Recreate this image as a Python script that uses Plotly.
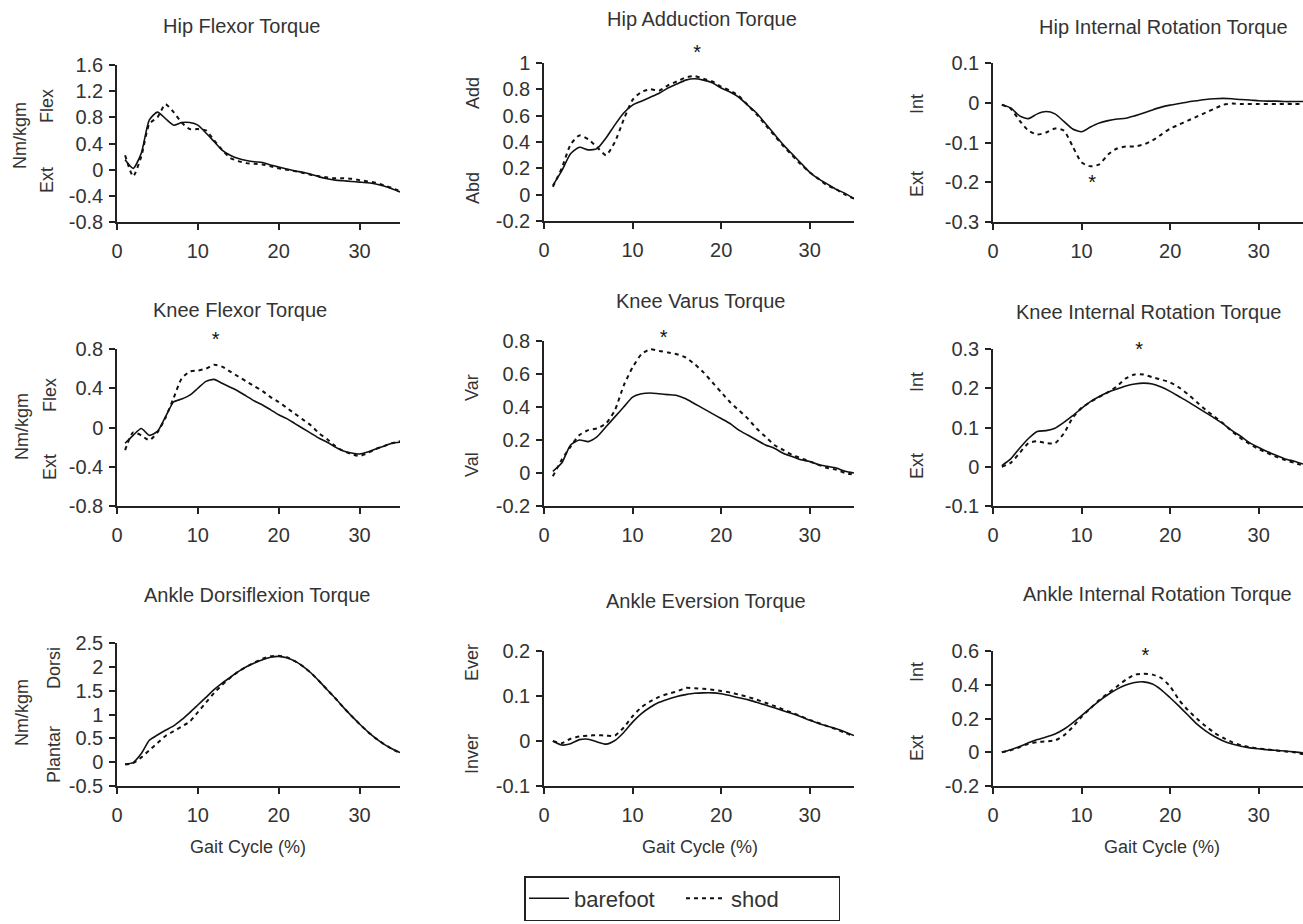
import plotly.graph_objects as go

# ---------------- data ----------------
gait = list(range(1, 36))
x_tick_vals = [0, 10, 20, 30]
x_tick_text = ["0", "10", "20", "30"]

titles = ["Hip Flexor Torque", "Hip Adduction Torque", "Hip Internal Rotation Torque",
          "Knee Flexor Torque", "Knee Varus Torque", "Knee Internal Rotation Torque",
          "Ankle Dorsiflexion Torque", "Ankle Eversion Torque", "Ankle Internal Rotation Torque"]
upper_labels = ["Flex", "Add", "Int", "Flex", "Var", "Int", "Dorsi", "Ever", "Int"]
lower_labels = ["Ext", "Abd", "Ext", "Ext", "Val", "Ext", "Plantar", "Inver", "Ext"]
unit_label = "Nm/kgm"
x_title = "Gait Cycle (%)"

hip_flex_bare = [0.15, 0.02, 0.25, 0.76, 0.88, 0.78, 0.68, 0.72, 0.72, 0.68, 0.56, 0.43, 0.30, 0.22, 0.17,
                 0.14, 0.12, 0.11, 0.07, 0.04, 0.01, -0.02, -0.04, -0.07, -0.11, -0.14, -0.16, -0.17, -0.18,
                 -0.19, -0.20, -0.22, -0.25, -0.29, -0.34]
hip_flex_shod = [0.22, -0.10, 0.20, 0.70, 0.80, 1.00, 0.88, 0.72, 0.62, 0.62, 0.60, 0.45, 0.30, 0.18, 0.13,
                 0.10, 0.09, 0.08, 0.05, 0.02, 0.00, -0.02, -0.05, -0.08, -0.10, -0.12, -0.13, -0.13, -0.14,
                 -0.16, -0.18, -0.20, -0.24, -0.28, -0.33]

hip_add_bare = [0.07, 0.18, 0.31, 0.36, 0.34, 0.35, 0.43, 0.53, 0.62, 0.68, 0.71, 0.74, 0.77, 0.81, 0.84,
                0.87, 0.88, 0.87, 0.85, 0.81, 0.78, 0.74, 0.68, 0.62, 0.54, 0.46, 0.38, 0.31, 0.24, 0.17,
                0.12, 0.08, 0.04, 0.01, -0.03]
hip_add_shod = [0.06, 0.20, 0.38, 0.45, 0.42, 0.36, 0.30, 0.40, 0.57, 0.72, 0.78, 0.80, 0.79, 0.83, 0.86,
                0.89, 0.90, 0.88, 0.86, 0.82, 0.79, 0.75, 0.68, 0.61, 0.53, 0.45, 0.37, 0.30, 0.23, 0.17,
                0.12, 0.07, 0.04, 0.00, -0.03]

hip_int_bare = [-0.005, -0.013, -0.033, -0.040, -0.028, -0.022, -0.028, -0.047, -0.066, -0.073, -0.061,
                -0.051, -0.045, -0.041, -0.039, -0.033, -0.026, -0.018, -0.011, -0.006, -0.002, 0.002,
                0.005, 0.008, 0.010, 0.011, 0.010, 0.008, 0.007, 0.005, 0.004, 0.004, 0.003, 0.003, 0.003]
hip_int_shod = [-0.005, -0.015, -0.045, -0.070, -0.080, -0.075, -0.065, -0.070, -0.110, -0.150, -0.160,
                -0.155, -0.130, -0.115, -0.110, -0.110, -0.105, -0.095, -0.080, -0.065, -0.055, -0.045,
                -0.035, -0.025, -0.015, -0.005, -0.002, -0.003, -0.003, -0.003, -0.003, -0.003, -0.003,
                -0.003, -0.003]

knee_flex_bare = [-0.16, -0.08, -0.01, -0.08, -0.04, 0.11, 0.26, 0.29, 0.33, 0.40, 0.47, 0.49, 0.45, 0.41,
                  0.37, 0.32, 0.27, 0.23, 0.18, 0.13, 0.09, 0.04, -0.01, -0.06, -0.11, -0.15, -0.20, -0.24,
                  -0.26, -0.27, -0.25, -0.22, -0.19, -0.16, -0.15]
knee_flex_shod = [-0.23, -0.05, -0.08, -0.13, -0.05, 0.10, 0.30, 0.50, 0.57, 0.58, 0.60, 0.64, 0.62, 0.57,
                  0.52, 0.47, 0.42, 0.37, 0.31, 0.26, 0.20, 0.14, 0.08, 0.02, -0.06, -0.12, -0.19, -0.24,
                  -0.27, -0.29, -0.26, -0.22, -0.19, -0.16, -0.14]

knee_var_bare = [0.01, 0.06, 0.17, 0.20, 0.19, 0.22, 0.28, 0.34, 0.40, 0.46, 0.48, 0.485, 0.48, 0.475, 0.47,
                 0.45, 0.42, 0.39, 0.36, 0.33, 0.30, 0.26, 0.23, 0.20, 0.17, 0.15, 0.12, 0.10, 0.08, 0.07,
                 0.05, 0.04, 0.03, 0.01, 0.00]
knee_var_shod = [-0.02, 0.08, 0.16, 0.23, 0.26, 0.27, 0.30, 0.38, 0.53, 0.64, 0.72, 0.75, 0.74, 0.73, 0.72,
                 0.70, 0.66, 0.61, 0.55, 0.49, 0.43, 0.38, 0.33, 0.27, 0.22, 0.17, 0.14, 0.11, 0.09, 0.07,
                 0.05, 0.03, 0.02, 0.00, -0.01]

knee_int_bare = [0.003, 0.020, 0.047, 0.072, 0.090, 0.092, 0.098, 0.113, 0.130, 0.149, 0.166, 0.179, 0.190,
                 0.198, 0.206, 0.211, 0.213, 0.211, 0.203, 0.192, 0.179, 0.166, 0.152, 0.138, 0.124, 0.109,
                 0.092, 0.077, 0.061, 0.049, 0.038, 0.029, 0.020, 0.014, 0.007]
knee_int_shod = [0.000, 0.010, 0.035, 0.060, 0.065, 0.060, 0.060, 0.085, 0.125, 0.150, 0.165, 0.178, 0.190,
                 0.205, 0.225, 0.235, 0.235, 0.228, 0.222, 0.215, 0.202, 0.185, 0.165, 0.145, 0.128, 0.110,
                 0.090, 0.072, 0.058, 0.045, 0.035, 0.025, 0.017, 0.010, 0.003]

ankle_dors_bare = [-0.04, -0.01, 0.18, 0.46, 0.57, 0.67, 0.76, 0.89, 1.04, 1.20, 1.36, 1.52, 1.66, 1.78,
                   1.90, 2.00, 2.08, 2.15, 2.20, 2.22, 2.19, 2.12, 2.01, 1.87, 1.70, 1.52, 1.34, 1.15, 0.97,
                   0.80, 0.64, 0.50, 0.38, 0.28, 0.20]
ankle_dors_shod = [-0.05, -0.02, 0.10, 0.25, 0.40, 0.55, 0.65, 0.75, 0.85, 1.05, 1.25, 1.45, 1.62, 1.77,
                   1.90, 2.00, 2.09, 2.17, 2.22, 2.23, 2.20, 2.12, 2.01, 1.87, 1.70, 1.52, 1.34, 1.15, 0.97,
                   0.80, 0.64, 0.50, 0.38, 0.28, 0.19]

ankle_ev_bare = [0.000, -0.009, -0.006, 0.003, 0.004, -0.002, -0.007, 0.001, 0.019, 0.042, 0.061, 0.075,
                 0.086, 0.093, 0.099, 0.103, 0.106, 0.107, 0.107, 0.105, 0.101, 0.096, 0.092, 0.086, 0.080,
                 0.074, 0.067, 0.061, 0.054, 0.046, 0.039, 0.033, 0.027, 0.020, 0.012]
ankle_ev_shod = [0.000, -0.005, 0.005, 0.010, 0.012, 0.013, 0.012, 0.012, 0.030, 0.055, 0.075, 0.088,
                 0.098, 0.105, 0.110, 0.118, 0.117, 0.116, 0.114, 0.111, 0.108, 0.103, 0.098, 0.092, 0.085,
                 0.078, 0.070, 0.063, 0.055, 0.047, 0.040, 0.033, 0.026, 0.018, 0.011]

ankle_int_bare = [0.000, 0.015, 0.034, 0.056, 0.075, 0.090, 0.108, 0.136, 0.174, 0.217, 0.262, 0.305, 0.342,
                  0.374, 0.398, 0.413, 0.417, 0.404, 0.370, 0.323, 0.273, 0.221, 0.168, 0.127, 0.093, 0.067,
                  0.049, 0.036, 0.026, 0.021, 0.015, 0.011, 0.007, 0.002, -0.004]
ankle_int_shod = [0.000, 0.012, 0.030, 0.050, 0.060, 0.065, 0.070, 0.100, 0.150, 0.210, 0.260, 0.310, 0.350,
                  0.390, 0.430, 0.460, 0.465, 0.460, 0.440, 0.390, 0.310, 0.250, 0.200, 0.155, 0.115, 0.085,
                  0.060, 0.042, 0.030, 0.022, 0.016, 0.010, 0.005, 0.000, -0.012]

y_tick_vals = [
    [-0.8, -0.4, 0, 0.4, 0.8, 1.2, 1.6],
    [-0.2, 0, 0.2, 0.4, 0.6, 0.8, 1.0],
    [-0.3, -0.2, -0.1, 0, 0.1],
    [-0.8, -0.4, 0, 0.4, 0.8],
    [-0.2, 0, 0.2, 0.4, 0.6, 0.8],
    [-0.1, 0, 0.1, 0.2, 0.3],
    [-0.5, 0, 0.5, 1.0, 1.5, 2.0, 2.5],
    [-0.1, 0, 0.1, 0.2],
    [-0.2, 0, 0.2, 0.4, 0.6],
]
y_tick_text = [
    ["-0.8", "-0.4", "0", "0.4", "0.8", "1.2", "1.6"],
    ["-0.2", "0", "0.2", "0.4", "0.6", "0.8", "1"],
    ["-0.3", "-0.2", "-0.1", "0", "0.1"],
    ["-0.8", "-0.4", "0", "0.4", "0.8"],
    ["-0.2", "0", "0.2", "0.4", "0.6", "0.8"],
    ["-0.1", "0", "0.1", "0.2", "0.3"],
    ["-0.5", "0", "0.5", "1", "1.5", "2", "2.5"],
    ["-0.1", "0", "0.1", "0.2"],
    ["-0.2", "0", "0.2", "0.4", "0.6"],
]

# significance markers (panel index, x, y)
star_panel = [1, 2, 3, 4, 5, 8]
star_x = [17.3, 11.2, 12.2, 13.5, 16.5, 17.2]
star_y = [1.07, -0.205, 0.88, 0.81, 0.294, 0.566]

barefoot = [hip_flex_bare, hip_add_bare, hip_int_bare, knee_flex_bare, knee_var_bare, knee_int_bare,
            ankle_dors_bare, ankle_ev_bare, ankle_int_bare]
shod = [hip_flex_shod, hip_add_shod, hip_int_shod, knee_flex_shod, knee_var_shod, knee_int_shod,
        ankle_dors_shod, ankle_ev_shod, ankle_int_shod]

# ---------------- layout geometry (page pixels) ----------------
W, H = 1303, 924
col_x = [(117, 400), (544, 854), (993, 1303)]
plot_y = [(65, 222), (63, 221), (63, 222),
          (349, 506), (341, 506), (349, 506),
          (643, 786), (651, 786), (651, 786)]
title_pos = [(241, 26), (702, 19), (1163, 27), (240, 310), (701, 301), (1148, 312),
             (257, 595), (706, 601), (1157, 594)]
upper_pos = [(47, 106), (473, 93), (917, 104), (50, 395), (472, 388), (917, 382),
             (54, 668), (472, 663), (917, 672)]
lower_pos = [(47, 180), (473, 188), (917, 184), (50, 467), (472, 465), (917, 466),
             (54, 754), (472, 754), (917, 748)]
unit_pos = [(20, 136), (22, 427), (22, 713)]
xtitle_pos = [(248, 847), (700, 847), (1162, 847)]
legend_anchor = (682, 921)   # bottom-centre of the legend box
STAR_EXT = 40                # extra headroom (px) for the asterisk overlay axes

FONT = "Liberation Sans, Arial, sans-serif"
TXT = "#333333"
LINE = "#111111"


def px_x(p):
    return min(1.0, max(0.0, p / W))


def px_y(p):
    return min(1.0, max(0.0, 1 - p / H))


fig = go.Figure()
layout = dict(
    width=W, height=H, margin=dict(l=0, r=0, t=0, b=0, pad=0, autoexpand=False), autosize=False,
    paper_bgcolor="white", plot_bgcolor="rgba(0,0,0,0)",
    font=dict(family=FONT, color=TXT),
    showlegend=True,
    legend=dict(orientation="h", x=px_x(legend_anchor[0]), xanchor="center",
                y=px_y(legend_anchor[1]), yanchor="bottom",
                bordercolor="#222222", borderwidth=1.5, bgcolor="white",
                font=dict(size=22, family=FONT, color=TXT), itemwidth=40, tracegroupgap=0,
                entrywidth=102, entrywidthmode="pixels"),
)

annotations = []
for i in range(9):
    ax = "" if i == 0 else str(i + 1)
    c = i % 3
    x0, x1 = col_x[c]
    yt, yb = plot_y[i]
    fig.add_trace(go.Scatter(
        x=gait, y=barefoot[i], mode="lines", name="barefoot", legendgroup="barefoot",
        showlegend=(i == 0), line=dict(color=LINE, width=1.6, shape="spline", smoothing=0.6),
        xaxis="x" + ax, yaxis="y" + ax, hoverinfo="skip"))
    fig.add_trace(go.Scatter(
        x=gait, y=shod[i], mode="lines", name="shod", legendgroup="shod",
        showlegend=(i == 0), line=dict(color=LINE, width=2, dash="4px,4px", shape="spline", smoothing=0.6),
        xaxis="x" + ax, yaxis="y" + ax, hoverinfo="skip"))

    layout["xaxis" + ax] = dict(
        domain=[px_x(x0), px_x(x1)], range=[0, 35], anchor="y" + ax, automargin=False,
        tickvals=x_tick_vals, ticktext=x_tick_text, showline=True, linecolor="#222222", linewidth=1.5,
        ticks="outside", ticklen=6, tickwidth=1.5, tickcolor="#222222", showgrid=False, zeroline=False,
        tickfont=dict(size=20, family=FONT, color=TXT), ticklabelstandoff=4, fixedrange=True)
    layout["yaxis" + ax] = dict(
        domain=[px_y(yb), px_y(yt)], range=[y_tick_vals[i][0], y_tick_vals[i][-1]], anchor="x" + ax,
        automargin=False,
        tickvals=y_tick_vals[i], ticktext=y_tick_text[i], showline=True, linecolor="#222222", linewidth=1.5,
        ticks="outside", ticklen=6, tickwidth=1.5, tickcolor="#222222", showgrid=False, zeroline=False,
        tickfont=dict(size=20, family=FONT, color=TXT), ticklabelstandoff=2, fixedrange=True)

    tx, ty = title_pos[i]
    annotations.append(dict(text=titles[i], x=px_x(tx), y=px_y(ty), xref="paper", yref="paper",
                            showarrow=False, xanchor="center", yanchor="middle",
                            font=dict(size=20, family=FONT, color=TXT)))
    ux, uy = upper_pos[i]
    annotations.append(dict(text=upper_labels[i], x=px_x(ux), y=px_y(uy), xref="paper", yref="paper",
                            showarrow=False, textangle=-90, xanchor="center", yanchor="middle",
                            font=dict(size=18, family=FONT, color=TXT)))
    lx, ly = lower_pos[i]
    annotations.append(dict(text=lower_labels[i], x=px_x(lx), y=px_y(ly), xref="paper", yref="paper",
                            showarrow=False, textangle=-90, xanchor="center", yanchor="middle",
                            font=dict(size=18, family=FONT, color=TXT)))

for (ux, uy) in unit_pos:
    annotations.append(dict(text=unit_label, x=px_x(ux), y=px_y(uy), xref="paper", yref="paper",
                            showarrow=False, textangle=-90, xanchor="center", yanchor="middle",
                            font=dict(size=18, family=FONT, color=TXT)))
for (gx, gy) in xtitle_pos:
    annotations.append(dict(text=x_title, x=px_x(gx), y=px_y(gy), xref="paper", yref="paper",
                            showarrow=False, xanchor="center", yanchor="middle",
                            font=dict(size=18, family=FONT, color=TXT)))

# significance asterisks: drawn on hidden overlay y-axes with the same scale but extra headroom,
# so that marks above the top tick are still rendered
for k, (p, sx, sy) in enumerate(zip(star_panel, star_x, star_y)):
    ax = "" if p == 0 else str(p + 1)
    sax = str(10 + k)
    yt, yb = plot_y[p]
    lo, hi = y_tick_vals[p][0], y_tick_vals[p][-1]
    per_px = (hi - lo) / (yb - yt)
    layout["yaxis" + sax] = dict(domain=[px_y(yb), px_y(yt - STAR_EXT)],
                                 range=[lo, hi + STAR_EXT * per_px], anchor="x" + ax, automargin=False,
                                 visible=False, showgrid=False, zeroline=False, fixedrange=True)
    fig.add_trace(go.Scatter(x=[sx], y=[sy], mode="text", text=["*"], textposition="middle center",
                             textfont=dict(size=20, family=FONT, color=LINE), showlegend=False,
                             xaxis="x" + ax, yaxis="y" + sax, hoverinfo="skip", cliponaxis=False))

layout["annotations"] = annotations
fig.update_layout(**layout)
fig.write_html("out.html")
